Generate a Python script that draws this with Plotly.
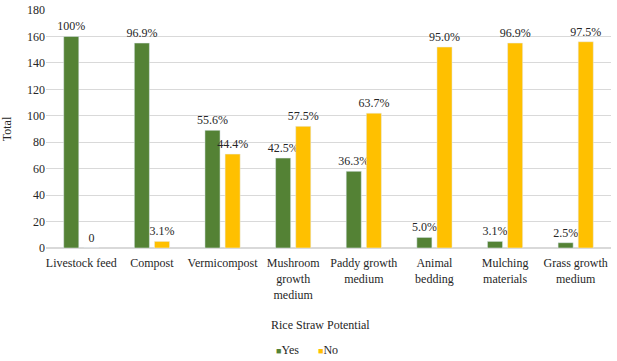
import plotly.graph_objects as go

categories = ["Livestock feed", "Compost", "Vermicompost", "Mushroom<br>growth<br>medium",
              "Paddy growth<br>medium", "Animal<br>bedding", "Mulching<br>materials", "Grass growth<br>medium"]
yes_vals = [160, 155, 89, 68, 58, 8, 5, 4]
no_vals = [0, 5, 71, 92, 102, 152, 155, 156]
yes_labels = ["100%", "96.9%", "55.6%", "42.5%", "36.3%", "5.0%", "3.1%", "2.5%"]
no_labels = ["0", "3.1%", "44.4%", "57.5%", "63.7%", "95.0%", "96.9%", "97.5%"]
y_ticks = [0, 20, 40, 60, 80, 100, 120, 140, 160, 180]

font = "Liberation Serif"
GREEN = "#548235"
YELLOW = "#FFC000"
TXT = "#262626"

fig = go.Figure()
fig.add_trace(go.Bar(x=categories, y=yes_vals, name="Yes", marker_color=GREEN,
                     text=yes_labels, textposition="outside", cliponaxis=False,
                     constraintext="none",
                     textfont=dict(family=font, size=12, color=TXT)))
fig.add_trace(go.Bar(x=categories, y=no_vals, name="No", marker_color=YELLOW,
                     text=no_labels, textposition="outside", cliponaxis=False,
                     constraintext="none",
                     textfont=dict(family=font, size=12, color=TXT)))

# plot area: x 46..611, y 10..248 in page pixels
fig.update_layout(
    width=617, height=361,
    margin=dict(l=46, r=6, t=10, b=113),
    paper_bgcolor="white", plot_bgcolor="white",
    barmode="group", bargap=0.43, bargroupgap=0.25,
    font=dict(family=font, size=12, color=TXT),
    showlegend=False,
    xaxis=dict(showgrid=False, showline=True, linecolor="#d9d9d9", linewidth=1,
               tickfont=dict(family=font, size=12, color=TXT), ticks="", automargin=False,
               ticklabelstandoff=4),
    yaxis=dict(range=[0, 180], tickvals=y_ticks, showgrid=True, gridcolor="#d9d9d9",
               zeroline=True, zerolinecolor="#d9d9d9", automargin=False,
               tickfont=dict(family=font, size=12, color=TXT), ticks="",
               title=dict(text="Total", font=dict(family=font, size=12, color=TXT), standoff=12)),
    annotations=[
        dict(text="Rice Straw Potential", xref="paper", yref="paper",
             x=0.485, y=-0.325, xanchor="center", yanchor="middle", showarrow=False,
             font=dict(family=font, size=12, color=TXT)),
        dict(text=f"<span style='color:{GREEN};font-size:9px'>■</span>Yes", xref="paper", yref="paper",
             x=0.404, y=-0.429, xanchor="left", yanchor="middle", showarrow=False,
             font=dict(family=font, size=12, color=TXT)),
        dict(text=f"<span style='color:{YELLOW};font-size:9px'>■</span>No", xref="paper", yref="paper",
             x=0.478, y=-0.429, xanchor="left", yanchor="middle", showarrow=False,
             font=dict(family=font, size=12, color=TXT)),
    ],
)
fig.write_html("out.html", config={"displayModeBar": False},
               post_script="document.body.style.margin='0';document.body.style.overflow='hidden';")
